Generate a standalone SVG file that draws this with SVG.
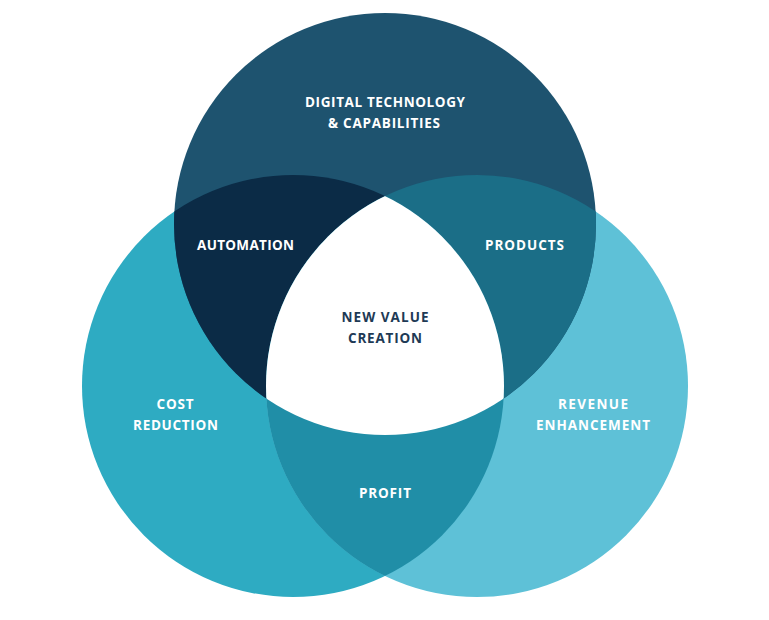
<svg xmlns="http://www.w3.org/2000/svg" width="769" height="620" viewBox="0 0 769 620">
  <style>
    .lbl { font-family: "Open Sans", "Liberation Sans", sans-serif; font-weight: 700; font-size: 13.5px; fill: #ffffff; text-anchor: middle; }
    .dark { fill: #1e3a55; }
  </style>
  <defs>
    <clipPath id="clipTop"><circle cx="385" cy="224" r="211"/></clipPath>
    <clipPath id="clipLeft"><circle cx="293" cy="386" r="211"/></clipPath>
  </defs>
  <rect width="769" height="620" fill="#ffffff"/>
  <g id="circle-cost">
    <circle cx="293" cy="386" r="211" fill="#2eabc2"/>
  </g>
  <g id="circle-revenue">
    <circle cx="477" cy="386" r="211" fill="#5ec1d7"/>
  </g>
  <g id="circle-digital">
    <circle cx="385" cy="224" r="211" fill="#1e536f"/>
  </g>
  <g id="automation">
    <circle cx="293" cy="386" r="211" fill="#0b2b46" clip-path="url(#clipTop)"/>
  </g>
  <g id="products">
    <circle cx="477" cy="386" r="211" fill="#1b6e87" clip-path="url(#clipTop)"/>
  </g>
  <g id="profit">
    <circle cx="477" cy="386" r="211" fill="#208ea7" clip-path="url(#clipLeft)"/>
  </g>
  <g id="new-value" clip-path="url(#clipTop)">
    <circle cx="477" cy="386" r="211" fill="#ffffff" clip-path="url(#clipLeft)"/>
  </g>
  <g id="labels">
    <text class="lbl" x="385" y="107" textLength="160" lengthAdjust="spacing">DIGITAL TECHNOLOGY</text>
    <text class="lbl" x="384" y="128" textLength="112" lengthAdjust="spacing">&amp; CAPABILITIES</text>
    <text class="lbl" x="245.5" y="250" textLength="97" lengthAdjust="spacing">AUTOMATION</text>
    <text class="lbl" x="524.5" y="250" textLength="79" lengthAdjust="spacing">PRODUCTS</text>
    <text class="lbl dark" x="385" y="322" textLength="87" lengthAdjust="spacing">NEW VALUE</text>
    <text class="lbl dark" x="385" y="343" textLength="74" lengthAdjust="spacing">CREATION</text>
    <text class="lbl" x="175" y="409" textLength="37" lengthAdjust="spacing">COST</text>
    <text class="lbl" x="175.5" y="430" textLength="85" lengthAdjust="spacing">REDUCTION</text>
    <text class="lbl" x="593" y="409" textLength="70" lengthAdjust="spacing">REVENUE</text>
    <text class="lbl" x="593" y="430" textLength="114" lengthAdjust="spacing">ENHANCEMENT</text>
    <text class="lbl" x="385" y="498" textLength="52" lengthAdjust="spacing">PROFIT</text>
  </g>
</svg>
